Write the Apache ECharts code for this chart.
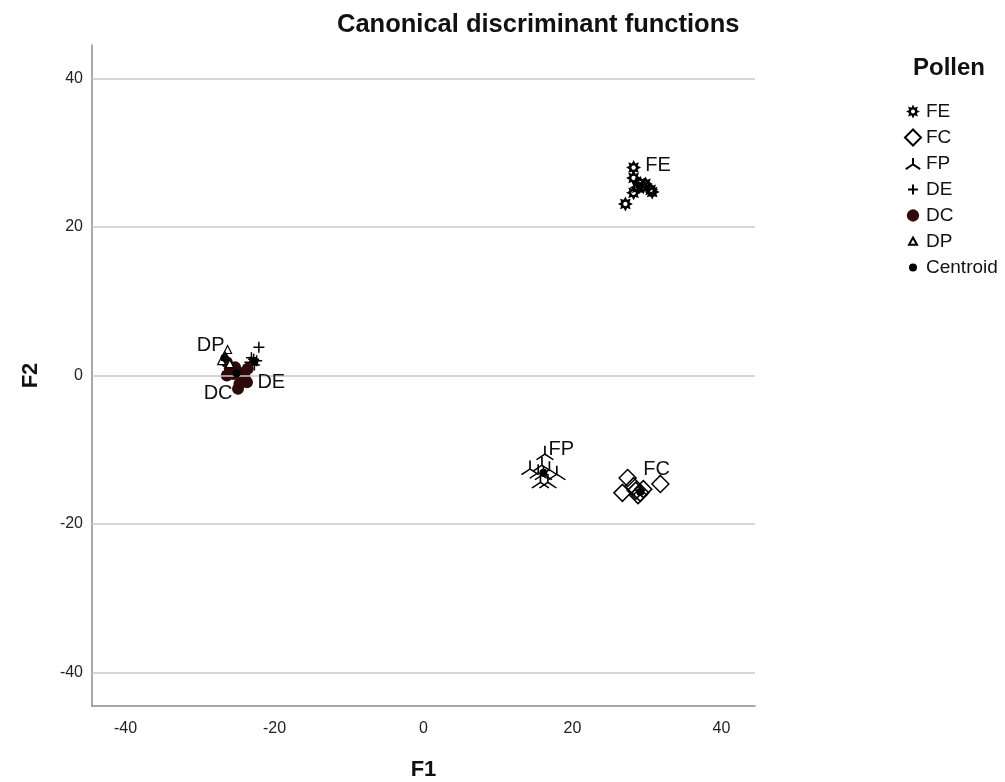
<!DOCTYPE html>
<html>
<head>
<meta charset="utf-8">
<script src="https://cdn.jsdelivr.net/npm/echarts@6/dist/echarts.min.js"></script>
<style>
  html, body { margin: 0; padding: 0; background: #fff; }
  #chart { width: 1005px; height: 782px; }
</style>
</head>
<body>
<div id="chart"></div>
<script>
// ---- data ----
const tickValues = [-40, -20, 0, 20, 40];

const feF1 = [28.2, 28.2, 29.1, 29.5, 28.7, 30.5, 28.2, 30.7, 27.1, 29.8];
const feF2 = [28.0, 26.6, 25.9, 25.4, 25.3, 25.0, 24.6, 24.7, 23.1, 25.8];

const fcF1 = [27.4, 26.7, 28.2, 29.1, 29.5, 31.8, 28.8, 28.5];
const fcF2 = [-13.8, -15.8, -14.9, -15.8, -15.3, -14.6, -16.1, -15.5];

const fpF1 = [16.3, 14.3, 15.9, 16.1, 17.9, 15.7, 16.7, 15.4, 16.9];
const fpF2 = [-10.4, -12.4, -11.9, -13.1, -13.1, -14.2, -14.2, -12.9, -12.5];

const deF1 = [-22.1, -23.1, -22.4, -22.7, -23.3, -22.8];
const deF2 = [3.8, 2.4, 2.0, 1.4, 1.8, 2.2];

const dcF1 = [-26.4, -26.0, -26.4, -25.3, -24.4, -24.7, -24.9, -23.7, -23.6, -25.5, -24.0];
const dcF2 = [1.8, 0.9, 0.0, 1.1, 0.3, -1.1, -1.8, -0.9, 0.9, 0.2, -0.2];

const dpF1 = [-26.3, -27.1, -26.6, -26.0];
const dpF2 = [3.5, 2.0, 2.6, 1.6];

const centroidNames = ['FE', 'FC', 'FP', 'DE', 'DC', 'DP'];
const centroidF1 = [29.1, 29.1, 16.1, -22.7, -25.1, -26.7];
const centroidF2 = [25.5, -15.7, -13.1, 1.9, 0.3, 2.4];

// ---- helpers ----
function pairs(xs, ys) { return xs.map((x, i) => [x, ys[i]]); }

const FONT = 'Liberation Sans, Arial, sans-serif';
const gearBody = 'M20,10 L15.54,12.3 L17.07,17.07 L12.3,15.54 L10,20 L7.7,15.54 L2.93,17.07 L4.46,12.3 L0,10 L4.46,7.7 L2.93,2.93 L7.7,4.46 L10,0 L12.3,4.46 L17.07,2.93 L15.54,7.7 Z M13,10 L12.12,7.88 L10,7 L7.88,7.88 L7,10 L7.88,12.12 L10,13 L12.12,12.12 Z';
const gearPath = 'path://' + gearBody;
const triProngPath = 'path://M10,0 L10,9 L1,15 M10,9 L19,15';
const plusPath = 'path://M5,0 L5,10 M0,5 L10,5';

// legend icons (padded so some appear smaller)
const legendIcons = {
  FE: 'path://M-1.5,-1.5 M21.5,21.5 ' + gearBody,
  FC: 'path://M8,0 L16,8 L8,16 L0,8 Z',
  FP: 'path://M0,0 M20,20 M10,3 L10,11 L1,17 M10,11 L19,17',
  DE: 'path://M-3,-3 M13,13 M5,0 L5,10 M0,5 L10,5',
  DC: 'path://M-1.5,-1.5 M11.5,11.5 M10,5 A5,5 0 1,1 10,4.99 Z',
  DP: 'path://M-5,-5 M15,15 M5,0 L10,9 L0,9 Z',
  Centroid: 'path://M-5,-5 M15,15 M10,5 A5,5 0 1,1 10,4.99 Z'
};

const labelCfg = {
  FE: { offset: [5, -21], align: 'left' },
  FC: { offset: [3, -23], align: 'left' },
  FP: { offset: [5, -23], align: 'left' },
  DE: { offset: [3, 21], align: 'left' },
  DC: { offset: [-4, 20], align: 'right' },
  DP: { offset: [0, -12], align: 'right' }
};

const centroidData = centroidNames.map((n, i) => ({
  name: n,
  value: [centroidF1[i], centroidF2[i]],
  label: {
    show: true,
    formatter: n,
    position: 'inside',
    offset: labelCfg[n].offset,
    align: labelCfg[n].align,
    verticalAlign: 'middle',
    fontSize: 20,
    fontFamily: FONT,
    color: '#111'
  }
}));

const chart = echarts.init(document.getElementById('chart'), null, { renderer: 'canvas' });

const option = {
  backgroundColor: '#ffffff',
  animation: false,
  title: [
    {
      text: 'Canonical discriminant functions',
      left: 337, top: 12, padding: 0,
      textStyle: { fontFamily: FONT, fontSize: 25.5, fontWeight: 'bold', color: '#111' }
    },
    {
      text: 'Pollen',
      left: 913, top: 56, padding: 0,
      textStyle: { fontFamily: FONT, fontSize: 24, fontWeight: 'bold', color: '#111' }
    }
  ],
  legend: {
    orient: 'vertical',
    left: 904, top: 102,
    padding: 0,
    itemWidth: 16, itemHeight: 16, itemGap: 7,
    selectedMode: false,
    textStyle: { fontFamily: FONT, fontSize: 19, color: '#111', lineHeight: 16 },
    data: ['FE', 'FC', 'FP', 'DE', 'DC', 'DP', 'Centroid'].map(n => ({ name: n, icon: legendIcons[n] }))
  },
  grid: { left: 92, right: 250, top: 45, bottom: 76, containLabel: false, outerBoundsMode: 'none' },
  xAxis: {
    type: 'value', min: -44.5, max: 44.5,
    name: 'F1', nameLocation: 'middle', nameGap: 53,
    nameTextStyle: { fontFamily: FONT, fontSize: 22, fontWeight: 'bold', color: '#111' },
    axisLine: { onZero: false, lineStyle: { color: '#8c8c8c', width: 1.5 } },
    axisTick: { show: false },
    splitLine: { show: false },
    axisLabel: { customValues: tickValues, margin: 15, fontSize: 16, color: '#222', fontFamily: FONT }
  },
  yAxis: {
    type: 'value', min: -44.5, max: 44.5,
    name: 'F2', nameLocation: 'middle', nameGap: 50,
    nameTextStyle: { fontFamily: FONT, fontSize: 22, fontWeight: 'bold', color: '#111' },
    axisLine: { onZero: false, lineStyle: { color: '#8c8c8c', width: 1.5 } },
    axisTick: { show: false },
    splitLine: { show: false },
    axisLabel: { customValues: tickValues, margin: 9, fontSize: 16, color: '#222', fontFamily: FONT }
  },
  series: [
    {
      name: 'gridlines', type: 'scatter', data: [], silent: true, z: 0,
      markLine: {
        silent: true, symbol: 'none', animation: false,
        label: { show: false },
        lineStyle: { color: '#c8c8c8', width: 1.5, type: 'solid' },
        data: tickValues.map(v => ({ yAxis: v }))
      }
    },
    {
      name: 'FE', type: 'scatter', data: pairs(feF1, feF2),
      symbol: gearPath, symbolSize: 15,
      itemStyle: { color: '#000', borderWidth: 0, opacity: 1 }
    },
    {
      name: 'FC', type: 'scatter', data: pairs(fcF1, fcF2),
      symbol: 'diamond', symbolSize: 17,
      itemStyle: { color: 'rgba(255,255,255,0)', borderColor: '#000', borderWidth: 1.5, opacity: 1 }
    },
    {
      name: 'FP', type: 'scatter', data: pairs(fpF1, fpF2),
      symbol: triProngPath, symbolSize: [17, 14],
      itemStyle: { color: 'rgba(0,0,0,0)', borderColor: '#000', borderWidth: 1.5, opacity: 1 }
    },
    {
      name: 'DE', type: 'scatter', data: pairs(deF1, deF2),
      symbol: plusPath, symbolSize: 11,
      itemStyle: { color: 'rgba(0,0,0,0)', borderColor: '#000', borderWidth: 1.5, opacity: 1 }
    },
    {
      name: 'DC', type: 'scatter', data: pairs(dcF1, dcF2),
      symbol: 'circle', symbolSize: 12,
      itemStyle: { color: '#2e0a0a', borderWidth: 0, opacity: 1 }
    },
    {
      name: 'DP', type: 'scatter', data: pairs(dpF1, dpF2),
      symbol: 'triangle', symbolSize: 8,
      itemStyle: { color: '#fff', borderColor: '#000', borderWidth: 1.2, opacity: 1 }
    },
    {
      name: 'Centroid', type: 'scatter', data: centroidData, z: 5,
      symbol: 'circle', symbolSize: 8,
      itemStyle: { color: '#000', borderWidth: 0, opacity: 1 }
    }
  ]
};

chart.setOption(option);
</script>
</body>
</html>
